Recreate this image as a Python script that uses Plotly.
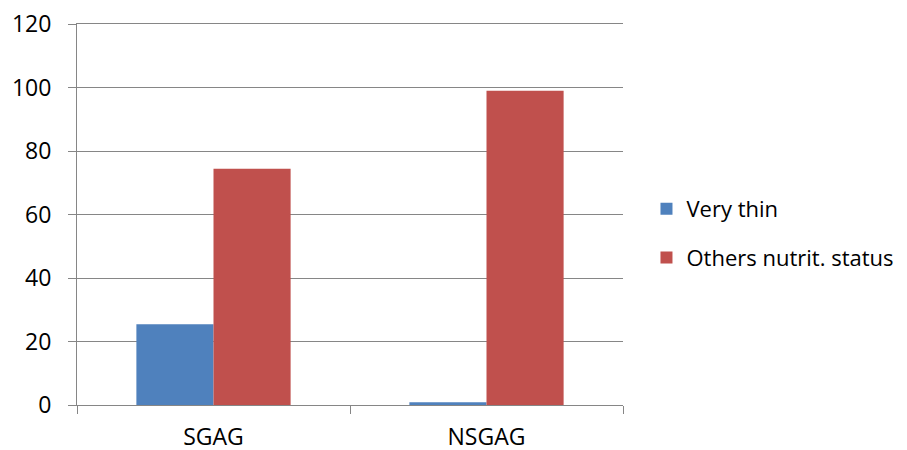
import plotly.graph_objects as go

categories = ["SGAG", "NSGAG"]
very_thin = [25.4, 0.9]
others = [74.4, 99.0]
y_ticks = [0, 20, 40, 60, 80, 100, 120]

axis_col = "#868686"
font = dict(family="Open Sans, Noto Sans, sans-serif", size=23, color="#000000")
legend_font = dict(family="Open Sans, Noto Sans, sans-serif", size=22, color="#000000")

fig = go.Figure()
fig.add_trace(go.Bar(x=categories, y=very_thin, name="Very thin",
                     marker=dict(color="#4F81BD", line=dict(width=0)),
                     legendgroup="a"))
fig.add_trace(go.Bar(x=categories, y=others, name="Others nutrit. status",
                     marker=dict(color="#C0504D", line=dict(width=0)),
                     legendgroup="b"))

# page body adds an 8px offset; margins compensate
fig.update_layout(
    width=915, height=458,
    margin=dict(l=69, r=300, t=16, b=61, autoexpand=False),
    paper_bgcolor="white", plot_bgcolor="white",
    font=font,
    barmode="group", bargap=0.435, bargroupgap=0,
    showlegend=True,
    legend=dict(x=1.043, xanchor="left", y=0.45, yanchor="middle",
                traceorder="grouped", tracegroupgap=17,
                font=legend_font, bgcolor="rgba(0,0,0,0)"),
)
fig.update_xaxes(
    showline=True, mirror=True, linecolor=axis_col, linewidth=1,
    ticks="outside", ticklen=8, tickcolor=axis_col, tickson="boundaries",
    showgrid=False, zeroline=False, ticklabelstandoff=11, automargin=False,
    ticklabeloverflow="allow",
)
fig.update_yaxes(
    range=[0, 120], tickvals=y_ticks, ticktext=[str(v) for v in y_ticks],
    showline=True, linecolor=axis_col, linewidth=1,
    ticks="outside", ticklen=8, tickcolor=axis_col,
    showgrid=True, gridcolor=axis_col, gridwidth=1,
    zeroline=False, ticklabelstandoff=12, automargin=False,
    ticklabeloverflow="allow",
)
fig.write_html("out.html")
